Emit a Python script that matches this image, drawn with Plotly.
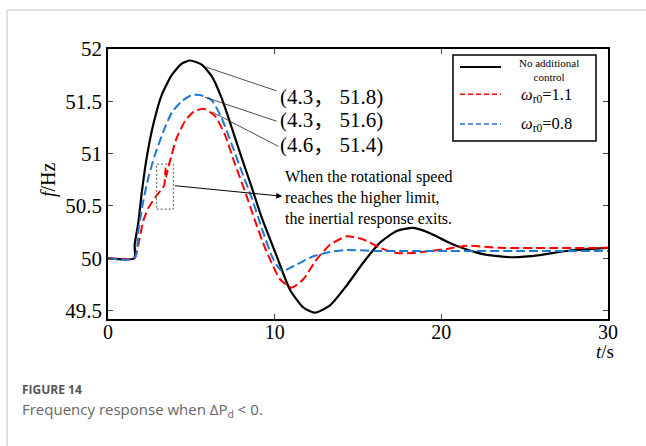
import plotly.graph_objects as go

# ---------------- data ----------------
t_black = [0, 1.58, 1.6, 1.82, 2.02, 2.32, 2.72, 3.22, 3.82, 4.42, 4.92, 5.62, 6.22, 6.82, 7.42,
           8.02, 8.62, 9.22, 10.12, 10.92, 11.72, 12.42, 13.32, 14.32, 15.32, 16.32, 17.32,
           18.32, 19.32, 20.32, 20.9, 22.5, 24.3, 25.9, 27.5, 30]
f_black = [50, 50, 50.13, 50.34, 50.62, 50.96, 51.28, 51.56, 51.75, 51.86, 51.89, 51.85, 51.74,
           51.53, 51.25, 50.96, 50.68, 50.39, 50.02, 49.70, 49.53, 49.48, 49.55, 49.74, 49.96,
           50.15, 50.26, 50.29, 50.24, 50.16, 50.12, 50.04, 50.01, 50.03, 50.07, 50.10]

t_red = [0, 1.6, 1.7, 1.82, 2.12, 2.42, 2.82, 3.22, 3.38, 3.45, 3.5, 3.6, 3.82, 4.12, 4.62, 5.12,
         5.72, 6.42, 7.02, 7.62, 8.22, 8.82, 9.42, 9.72, 10.32, 11.02, 11.72, 12.52, 13.32, 14.32,
         15.32, 16.32, 17.32, 18.32, 19.32, 20.32, 21.5, 23.5, 30]
f_red = [50, 50, 50.05, 50.13, 50.36, 50.48, 50.58, 50.66, 50.70, 50.86, 50.78, 50.86, 50.99,
         51.15, 51.31, 51.40, 51.43, 51.36, 51.18, 50.90, 50.64, 50.36, 50.10, 49.99, 49.80,
         49.72, 49.80, 49.99, 50.13, 50.21, 50.18, 50.10, 50.05, 50.05, 50.07, 50.09, 50.12,
         50.10, 50.10]

t_blue = [0, 1.6, 1.82, 2.12, 2.42, 2.82, 3.32, 3.82, 4.42, 5.02, 5.52, 6.22, 6.82, 7.42, 8.02,
          8.62, 9.22, 9.92, 10.42, 11.32, 12.32, 13.32, 14.32, 16, 18, 20, 25, 30]
f_blue = [50, 50, 50.26, 50.55, 50.77, 50.99, 51.21, 51.39, 51.50, 51.56, 51.56, 51.51, 51.34,
          51.09, 50.83, 50.58, 50.29, 49.99, 49.88, 49.94, 50.02, 50.06, 50.08, 50.07, 50.07,
          50.07, 50.07, 50.07]

x_ticks = [0, 10, 20, 30]
y_ticks = [49.5, 50, 50.5, 51, 51.5, 52]
y_ticktext = ["49.5", "50", "50.5", "51", "51.5", "52"]

peak_labels = ["(4.3， 51.8)", "(4.3， 51.6)", "(4.6， 51.4)"]
legend_names = ["No additional<br>control", "<i>ω</i><sub>r0</sub>=1.1", "<i>ω</i><sub>r0</sub>=0.8"]

SERIF = "Liberation Serif, Noto Sans CJK SC, serif"
L, R, T, B = 108, 38, 49, 127
W, H = 646, 446


def px(x):
    return (x - L) / (W - L - R)


def py(y):
    return (H - B - y) / (H - T - B)


fig = go.Figure()
fig.add_trace(go.Scatter(x=t_black, y=f_black, mode="lines",
                         line=dict(color="black", width=2.2, shape="spline", smoothing=0.6),
                         showlegend=False))
fig.add_trace(go.Scatter(x=t_red, y=f_red, mode="lines",
                         line=dict(color="#ff0000", width=2, dash="9px,4px", shape="spline", smoothing=0.5),
                         showlegend=False))
fig.add_trace(go.Scatter(x=t_blue, y=f_blue, mode="lines",
                         line=dict(color="#1f77d4", width=2, dash="9px,4px", shape="spline", smoothing=0.6),
                         showlegend=False))

shapes = []
# page frame
shapes.append(dict(type="line", xref="paper", yref="paper", x0=px(7), x1=px(646), y0=py(10), y1=py(10),
                   line=dict(color="#d6d6d6", width=1.5)))
shapes.append(dict(type="line", xref="paper", yref="paper", x0=px(7), x1=px(7), y0=py(10), y1=py(446),
                   line=dict(color="#d6d6d6", width=1.5)))
# leader lines
for (x0, y0, x1, y1) in [(5.82, 51.83, 10.12, 51.60), (5.8, 51.54, 10.12, 51.31), (6.22, 51.40, 10.22, 51.07)]:
    shapes.append(dict(type="line", xref="x", yref="y", x0=x0, y0=y0, x1=x1, y1=y1,
                       line=dict(color="#222", width=0.8)))
# dashed rectangle
shapes.append(dict(type="rect", xref="x", yref="y", x0=2.92, x1=3.92, y0=50.47, y1=50.90,
                   line=dict(color="#555", width=1, dash="2px,2px")))
# legend box
shapes.append(dict(type="rect", xref="paper", yref="paper", x0=px(453), x1=px(596), y0=py(141), y1=py(55),
                   line=dict(color="black", width=1.5), fillcolor="white"))
for yy, col, dash, wd in [(67, "black", "solid", 2), (94.3, "#ff0000", "5px,3px", 1.5), (124, "#1f77d4", "5px,3px", 1.5)]:
    shapes.append(dict(type="line", xref="paper", yref="paper", x0=px(460), x1=px(501), y0=py(yy), y1=py(yy),
                       line=dict(color=col, width=wd, dash=dash)))

annotations = []
for lab, yv in zip(peak_labels, [51.54, 51.32, 51.086]):
    annotations.append(dict(x=10.2, y=yv, xref="x", yref="y", text=lab, showarrow=False, xanchor="left",
                            yanchor="middle", font=dict(family=SERIF, size=21, color="black")))
annotations.append(dict(x=10.5, y=50.58, xref="x", yref="y",
                        text="When the rotational speed<br>reaches the higher limit,<br>the inertial response exits.",
                        showarrow=False, xanchor="left", yanchor="middle", align="left",
                        font=dict(family=SERIF, size=16, color="black")))
annotations.append(dict(x=10.45, y=50.593, ax=3.92, ay=50.695, xref="x", yref="y", axref="x", ayref="y",
                        text="", showarrow=True, arrowhead=2, arrowsize=1.2, arrowwidth=1, arrowcolor="black"))
# legend texts
annotations.append(dict(x=px(549), y=py(69.5), xref="paper", yref="paper", text=legend_names[0], showarrow=False,
                        xanchor="center", yanchor="middle", font=dict(family=SERIF, size=11, color="black")))
annotations.append(dict(x=px(546), y=py(95), xref="paper", yref="paper", text=legend_names[1], showarrow=False,
                        xanchor="center", yanchor="middle", font=dict(family=SERIF, size=16.5, color="black")))
annotations.append(dict(x=px(546), y=py(124), xref="paper", yref="paper", text=legend_names[2], showarrow=False,
                        xanchor="center", yanchor="middle", font=dict(family=SERIF, size=16.5, color="black")))
# axis titles
annotations.append(dict(x=px(48), y=py(180), xref="paper", yref="paper", text="<i>f</i>/Hz", textangle=-90,
                        showarrow=False, xanchor="center", yanchor="middle", font=dict(family=SERIF, size=20, color="black")))
annotations.append(dict(x=px(605), y=py(351), xref="paper", yref="paper", text="<i>t</i>/s",
                        showarrow=False, xanchor="center", yanchor="middle", font=dict(family=SERIF, size=19, color="black")))
# caption
annotations.append(dict(x=px(20), y=py(389), xref="paper", yref="paper", text="<b>FIGURE 14</b>",
                        showarrow=False, xanchor="left", yanchor="middle", font=dict(family="Open Sans", size=12, color="#555")))
annotations.append(dict(x=px(20), y=py(410), xref="paper", yref="paper",
                        text="Frequency response when ΔP<sub>d</sub> &lt; 0.",
                        showarrow=False, xanchor="left", yanchor="middle", font=dict(family="Open Sans", size=15, color="#666")))

fig.update_layout(
    width=W, height=H, margin=dict(l=L, r=R, t=T, b=B),
    paper_bgcolor="white", plot_bgcolor="white",
    shapes=shapes, annotations=annotations, showlegend=False,
    xaxis=dict(range=[0, 30], tickvals=x_ticks, ticks="inside", ticklen=5, tickwidth=1,
               showline=True, linecolor="black", linewidth=1.5, mirror="ticks", showgrid=False, zeroline=False,
               ticklabelstandoff=-6,
               tickfont=dict(family="Liberation Serif", size=20, color="black")),
    yaxis=dict(range=[49.42, 52], tickvals=y_ticks, ticktext=y_ticktext, ticks="inside", ticklen=5, tickwidth=1,
               showline=True, linecolor="black", linewidth=1.5, mirror="ticks", showgrid=False, zeroline=False,
               tickfont=dict(family="Liberation Serif", size=21, color="black")),
)

fig.write_html("out.html")
